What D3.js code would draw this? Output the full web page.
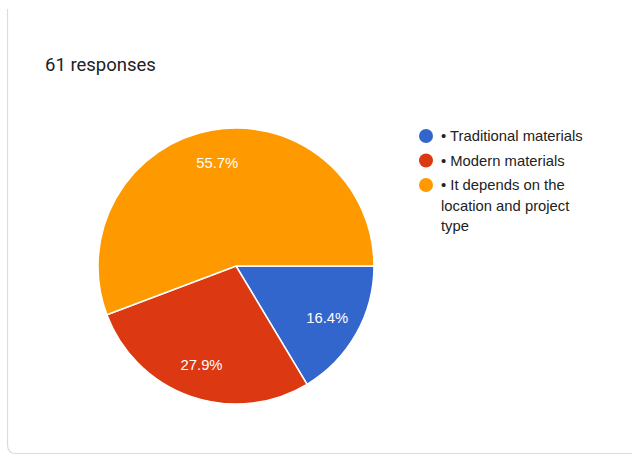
<!DOCTYPE html>
<html>
<head>
<meta charset="utf-8">
<script src="https://cdn.jsdelivr.net/npm/d3@7"></script>
<style>
  html, body { margin: 0; padding: 0; background: #ffffff; }
  svg { display: block; }
</style>
</head>
<body>
<svg id="chart" width="632" height="458"></svg>
<script>
// Survey answers and their response counts
const categories = ["• Traditional materials", "• Modern materials", "• It depends on the location and project type"];
const counts = [10, 17, 34];
const colors = ["#3366cc", "#dc3912", "#ff9900"];
const title = "61 responses";

const W = 632, H = 458;
const svg = d3.select("#chart");

// Card outline (left and bottom edges visible, rounded bottom-left corner)
svg.append("path")
  .attr("d", "M7.5,9 L7.5,445 Q7.5,453.5 16,453.5 L632,453.5")
  .attr("fill", "none")
  .attr("stroke", "#dadce0")
  .attr("stroke-width", 1.2);

svg.append("text")
  .attr("x", 45).attr("y", 71)
  .attr("font-family", "Roboto, sans-serif")
  .attr("font-size", 18.5)
  .attr("fill", "#202124")
  .text(title);

const total = d3.sum(counts);
const cx = 236, cy = 266, R = 138;

const pie = d3.pie().sort(null).value(d => d)
  .startAngle(Math.PI / 2).endAngle(Math.PI / 2 + 2 * Math.PI);
const arcs = pie(counts);
const arc = d3.arc().innerRadius(0).outerRadius(R);
const labelArc = d3.arc().innerRadius(R * 0.76).outerRadius(R * 0.76);

const g = svg.append("g").attr("transform", `translate(${cx},${cy})`);

g.selectAll("path.slice")
  .data(arcs)
  .join("path")
  .attr("class", "slice")
  .attr("d", arc)
  .attr("fill", (d, i) => colors[i])
  .attr("stroke", "#ffffff")
  .attr("stroke-width", 1.5);

g.selectAll("text.pct")
  .data(arcs)
  .join("text")
  .attr("class", "pct")
  .attr("transform", d => `translate(${labelArc.centroid(d)})`)
  .attr("text-anchor", "middle")
  .attr("dominant-baseline", "central")
  .attr("font-family", "'Liberation Sans', Arial, sans-serif")
  .attr("font-size", 14.8)
  .attr("fill", "#ffffff")
  .text(d => (d.value / total * 100).toFixed(1) + "%");

// Legend with wrapped labels
const legendX = 426, textX = 441, wrapWidth = 150;
const legend = svg.append("g");
let y = 136;
categories.forEach((label, i) => {
  legend.append("circle")
    .attr("cx", legendX).attr("cy", y).attr("r", 7)
    .attr("fill", colors[i]);
  const t = legend.append("text")
    .attr("font-family", "'Liberation Sans', Arial, sans-serif")
    .attr("font-size", 14.8)
    .attr("fill", "#222222");
  const words = label.split(" ");
  let line = [];
  let lineIdx = 0;
  let tspan = t.append("tspan").attr("x", textX).attr("y", y).attr("dy", "0.35em");
  words.forEach(w => {
    line.push(w);
    tspan.text(line.join(" "));
    if (tspan.node().getComputedTextLength() > wrapWidth && line.length > 1) {
      line.pop();
      tspan.text(line.join(" "));
      line = [w];
      lineIdx++;
      tspan = t.append("tspan").attr("x", textX).attr("y", y + lineIdx * 20.5).attr("dy", "0.35em").text(w);
    }
  });
  y += 24.5 + lineIdx * 20.5;
});
</script>
</body>
</html>
